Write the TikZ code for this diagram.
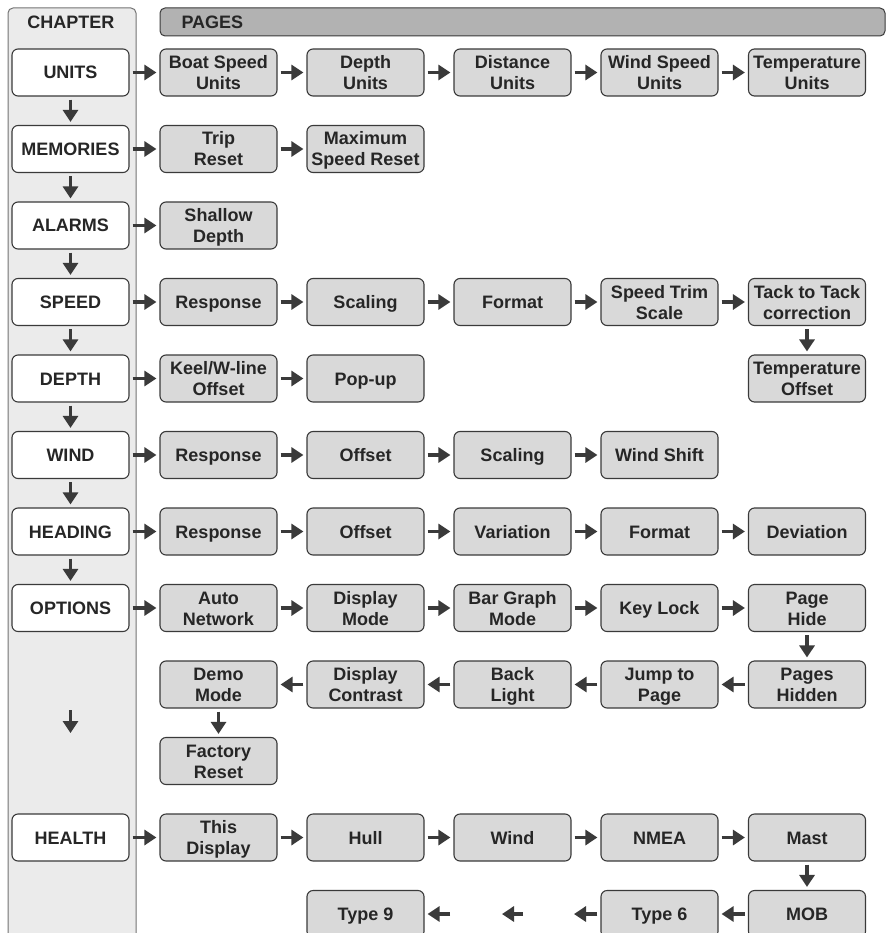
\documentclass[tikz,border=0pt]{standalone}
\usepackage{fontspec}
\setmainfont{Liberation Sans}
\usetikzlibrary{arrows.meta}

\definecolor{pagefill}{HTML}{D9D9D9}
\definecolor{colfill}{HTML}{EBEBEB}
\definecolor{barfill}{HTML}{B2B2B2}
\definecolor{edge}{HTML}{3A3A3A}
\definecolor{ink}{HTML}{262626}

\begin{document}
\begin{tikzpicture}[x=1pt,y=-1pt,
  font=\fontsize{18}{21}\selectfont\bfseries, text=ink,
  box/.style={draw=edge,line width=1.1pt,rounded corners=6pt,align=center,
    minimum width=117pt,minimum height=47pt,inner sep=0pt,
    text height=14pt,text depth=1pt},
  two/.style={text height=35pt},
  chap/.style={box,fill=white},
  page/.style={box,fill=pagefill},
  arr/.style={draw=edge,line width=3.5pt,-{Triangle[length=12pt,width=15pt]},
    shorten <=3pt,shorten >=3pt}]
  \useasboundingbox (0,0) rectangle (886,933);
  \clip (0,0) rectangle (886,933);

  % headers
  \draw[draw=black!55,line width=1pt,fill=colfill,rounded corners=5pt] (8,8) rectangle (136,980);
  \draw[draw=edge,line width=1pt,fill=barfill,rounded corners=5pt] (160,8) rectangle (885,36);
  \node (hchap) at (71,22) {CHAPTER};
  \node[anchor=west] (hpages) at (178,22) {PAGES};

  % chapters
  \node[chap] (units) at (70.5,72.5) {UNITS};
  \node[chap] (mem) at (70.5,149) {MEMORIES};
  \node[chap] (alarms) at (70.5,225.5) {ALARMS};
  \node[chap] (speed) at (70.5,302) {SPEED};
  \node[chap] (depth) at (70.5,378.5) {DEPTH};
  \node[chap] (wind) at (70.5,455) {WIND};
  \node[chap] (head) at (70.5,531.5) {HEADING};
  \node[chap] (opt) at (70.5,608) {OPTIONS};
  \node[chap] (health) at (70.5,837.5) {HEALTH};
  \coordinate (optA) at (70.5,707);
  \coordinate (optB) at (70.5,736);

  % units
  \node[page,two] (bsu) at (218.5,72.5) {Boat Speed\\Units};
  \node[page,two] (du) at (365.5,72.5) {Depth\\Units};
  \node[page,two] (dsu) at (512.5,72.5) {Distance\\Units};
  \node[page,two] (wsu) at (659.5,72.5) {Wind Speed\\Units};
  \node[page,two] (tu) at (807,72.5) {Temperature\\Units};

  % memories, alarms
  \node[page,two] (trip) at (218.5,149) {Trip\\Reset};
  \node[page,two] (msr) at (365.5,149) {Maximum\\Speed Reset};
  \node[page,two] (shd) at (218.5,225.5) {Shallow\\Depth};

  % speed, depth
  \node[page] (sresp) at (218.5,302) {Response};
  \node[page] (sscal) at (365.5,302) {Scaling};
  \node[page] (sfmt) at (512.5,302) {Format};
  \node[page,two] (strim) at (659.5,302) {Speed Trim\\Scale};
  \node[page,two] (tack) at (807,302) {Tack to Tack\\correction};
  \node[page,two] (keel) at (218.5,378.5) {Keel/W-line\\Offset};
  \node[page] (popup) at (365.5,378.5) {Pop-up};
  \node[page,two] (toff) at (807,378.5) {Temperature\\Offset};

  % wind, heading
  \node[page] (wresp) at (218.5,455) {Response};
  \node[page] (woff) at (365.5,455) {Offset};
  \node[page] (wscal) at (512.5,455) {Scaling};
  \node[page] (wshift) at (659.5,455) {Wind Shift};
  \node[page] (hresp) at (218.5,531.5) {Response};
  \node[page] (hoff) at (365.5,531.5) {Offset};
  \node[page] (hvar) at (512.5,531.5) {Variation};
  \node[page] (hfmt) at (659.5,531.5) {Format};
  \node[page] (hdev) at (807,531.5) {Deviation};

  % options
  \node[page,two] (auto) at (218.5,608) {Auto\\Network};
  \node[page,two] (dmode) at (365.5,608) {Display\\Mode};
  \node[page,two] (bar) at (512.5,608) {Bar Graph\\Mode};
  \node[page] (klock) at (659.5,608) {Key Lock};
  \node[page,two] (phide) at (807,608) {Page\\Hide};
  \node[page,two] (demo) at (218.5,684.5) {Demo\\Mode};
  \node[page,two] (contr) at (365.5,684.5) {Display\\Contrast};
  \node[page,two] (back) at (512.5,684.5) {Back\\Light};
  \node[page,two] (jump) at (659.5,684.5) {Jump to\\Page};
  \node[page,two] (phid) at (807,684.5) {Pages\\Hidden};
  \node[page,two] (fact) at (218.5,761) {Factory\\Reset};

  % health
  \node[page,two] (this) at (218.5,837.5) {This\\Display};
  \node[page] (hull) at (365.5,837.5) {Hull};
  \node[page] (hwind) at (512.5,837.5) {Wind};
  \node[page] (nmea) at (659.5,837.5) {NMEA};
  \node[page] (mast) at (807,837.5) {Mast};
  \node[page] (type9) at (365.5,914) {Type 9};
  \node[page] (type6) at (659.5,914) {Type 6};
  \node[page] (mob) at (807,914) {MOB};
  \coordinate (gapR) at (571,914);
  \coordinate (gapM1) at (526,914);
  \coordinate (gapM2) at (499,914);
  \coordinate (gapL) at (453,914);

  % chapter arrows
  \draw[arr] (units) -- (mem);
  \draw[arr] (mem) -- (alarms);
  \draw[arr] (alarms) -- (speed);
  \draw[arr] (speed) -- (depth);
  \draw[arr] (depth) -- (wind);
  \draw[arr] (wind) -- (head);
  \draw[arr] (head) -- (opt);
  \draw[arr] (optA) -- (optB);

  % page arrows
  \draw[arr] (units) -- (bsu);
  \draw[arr] (bsu) -- (du);
  \draw[arr] (du) -- (dsu);
  \draw[arr] (dsu) -- (wsu);
  \draw[arr] (wsu) -- (tu);
  \draw[arr] (mem) -- (trip);
  \draw[arr] (trip) -- (msr);
  \draw[arr] (alarms) -- (shd);
  \draw[arr] (speed) -- (sresp);
  \draw[arr] (sresp) -- (sscal);
  \draw[arr] (sscal) -- (sfmt);
  \draw[arr] (sfmt) -- (strim);
  \draw[arr] (strim) -- (tack);
  \draw[arr] (tack) -- (toff);
  \draw[arr] (depth) -- (keel);
  \draw[arr] (keel) -- (popup);
  \draw[arr] (wind) -- (wresp);
  \draw[arr] (wresp) -- (woff);
  \draw[arr] (woff) -- (wscal);
  \draw[arr] (wscal) -- (wshift);
  \draw[arr] (head) -- (hresp);
  \draw[arr] (hresp) -- (hoff);
  \draw[arr] (hoff) -- (hvar);
  \draw[arr] (hvar) -- (hfmt);
  \draw[arr] (hfmt) -- (hdev);
  \draw[arr] (opt) -- (auto);
  \draw[arr] (auto) -- (dmode);
  \draw[arr] (dmode) -- (bar);
  \draw[arr] (bar) -- (klock);
  \draw[arr] (klock) -- (phide);
  \draw[arr] (phide) -- (phid);
  \draw[arr] (phid) -- (jump);
  \draw[arr] (jump) -- (back);
  \draw[arr] (back) -- (contr);
  \draw[arr] (contr) -- (demo);
  \draw[arr] (demo) -- (fact);
  \draw[arr] (health) -- (this);
  \draw[arr] (this) -- (hull);
  \draw[arr] (hull) -- (hwind);
  \draw[arr] (hwind) -- (nmea);
  \draw[arr] (nmea) -- (mast);
  \draw[arr] (mast) -- (mob);
  \draw[arr] (mob) -- (type6);
  \draw[arr] (type6) -- (gapR);
  \draw[arr] (gapM1) -- (gapM2);
  \draw[arr] (gapL) -- (type9);
\end{tikzpicture}
\end{document}
